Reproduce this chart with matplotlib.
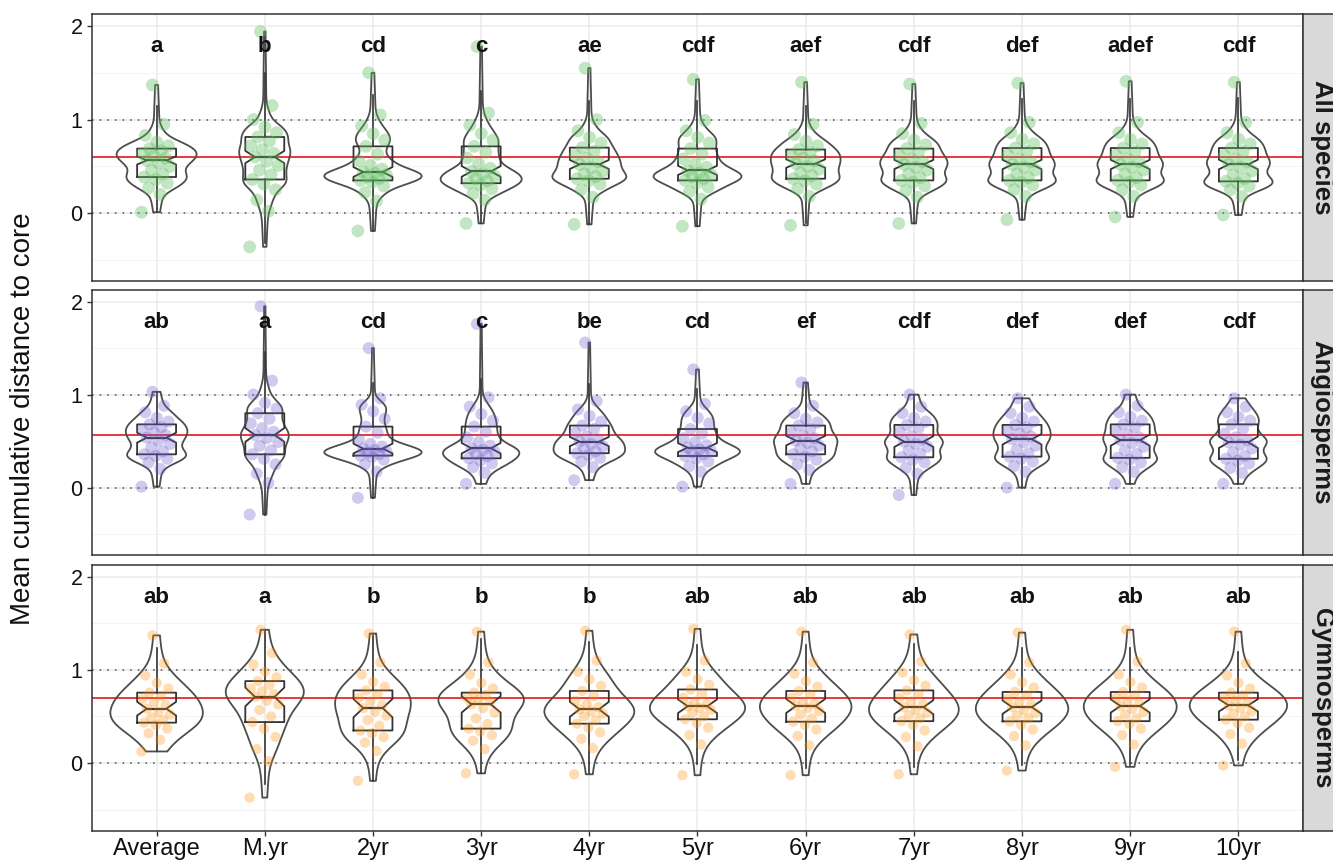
"""
violin + notched box + jitter, three facet rows
distance to core by record length

"""
import numpy as np
import matplotlib.pyplot as plt
from matplotlib import cbook

plt.rcParams['font.family'] = ['Liberation Sans', 'DejaVu Sans']

groups = ['Average', 'M.yr', '2yr', '3yr', '4yr', '5yr',
          '6yr', '7yr', '8yr', '9yr', '10yr']
panels = ['All species', 'Angiosperms', 'Gymnosperms']

all_species = [
    [0.01, 0.20, 0.27, 0.32, 0.36, 0.386, 0.42, 0.46, 0.50, 0.535, 0.564, 0.59, 0.615, 0.64, 0.665, 0.69, 0.72, 0.76, 0.83, 0.95, 1.37],
    [-0.36, 0.02, 0.14, 0.25, 0.31, 0.36, 0.41, 0.46, 0.51, 0.555, 0.60, 0.64, 0.68, 0.72, 0.77, 0.814, 0.86, 0.92, 1.00, 1.15, 1.94],
    [-0.19, 0.13, 0.22, 0.29, 0.33, 0.35, 0.37, 0.39, 0.41, 0.425, 0.44, 0.47, 0.51, 0.56, 0.63, 0.714, 0.78, 0.85, 0.93, 1.05, 1.50],
    [-0.11, 0.14, 0.21, 0.26, 0.30, 0.32, 0.345, 0.37, 0.395, 0.42, 0.446, 0.48, 0.53, 0.59, 0.65, 0.714, 0.78, 0.85, 0.94, 1.07, 1.78],
    [-0.12, 0.17, 0.25, 0.31, 0.345, 0.368, 0.39, 0.42, 0.45, 0.485, 0.52, 0.55, 0.585, 0.62, 0.66, 0.70, 0.75, 0.81, 0.88, 1.00, 1.55],
    [-0.14, 0.15, 0.23, 0.28, 0.32, 0.35, 0.37, 0.39, 0.41, 0.43, 0.457, 0.49, 0.53, 0.58, 0.63, 0.69, 0.75, 0.81, 0.88, 0.99, 1.43],
    [-0.13, 0.18, 0.26, 0.31, 0.345, 0.368, 0.40, 0.43, 0.47, 0.50, 0.53, 0.56, 0.59, 0.62, 0.65, 0.68, 0.72, 0.77, 0.84, 0.95, 1.40],
    [-0.11, 0.17, 0.24, 0.29, 0.33, 0.35, 0.38, 0.42, 0.46, 0.49, 0.52, 0.55, 0.58, 0.61, 0.65, 0.69, 0.73, 0.78, 0.85, 0.96, 1.38],
    [-0.07, 0.18, 0.25, 0.30, 0.33, 0.35, 0.38, 0.42, 0.46, 0.49, 0.52, 0.55, 0.58, 0.62, 0.66, 0.696, 0.74, 0.79, 0.86, 0.97, 1.39],
    [-0.04, 0.18, 0.25, 0.30, 0.33, 0.35, 0.38, 0.42, 0.46, 0.49, 0.52, 0.55, 0.58, 0.62, 0.66, 0.696, 0.74, 0.79, 0.86, 0.97, 1.41],
    [-0.02, 0.18, 0.25, 0.29, 0.32, 0.34, 0.37, 0.41, 0.45, 0.49, 0.52, 0.55, 0.58, 0.62, 0.66, 0.696, 0.74, 0.79, 0.86, 0.97, 1.40],
]
angiosperms = [
    [0.01, 0.20, 0.27, 0.31, 0.34, 0.358, 0.39, 0.43, 0.47, 0.505, 0.537, 0.565, 0.595, 0.62, 0.65, 0.68, 0.71, 0.75, 0.81, 0.88, 1.03],
    [-0.29, 0.05, 0.15, 0.25, 0.31, 0.358, 0.40, 0.45, 0.49, 0.53, 0.566, 0.60, 0.64, 0.69, 0.74, 0.80, 0.85, 0.91, 1.00, 1.15, 1.95],
    [-0.11, 0.17, 0.25, 0.30, 0.33, 0.344, 0.36, 0.375, 0.39, 0.405, 0.42, 0.44, 0.47, 0.52, 0.59, 0.656, 0.74, 0.82, 0.89, 0.96, 1.50],
    [0.04, 0.16, 0.22, 0.26, 0.29, 0.315, 0.34, 0.36, 0.385, 0.405, 0.423, 0.45, 0.49, 0.54, 0.60, 0.656, 0.72, 0.79, 0.87, 0.97, 1.76],
    [0.08, 0.22, 0.28, 0.32, 0.35, 0.37, 0.39, 0.42, 0.445, 0.47, 0.495, 0.52, 0.55, 0.59, 0.63, 0.667, 0.71, 0.77, 0.84, 0.93, 1.56],
    [0.01, 0.17, 0.23, 0.28, 0.315, 0.34, 0.36, 0.38, 0.395, 0.41, 0.43, 0.455, 0.49, 0.53, 0.58, 0.63, 0.69, 0.75, 0.82, 0.90, 1.27],
    [0.04, 0.19, 0.25, 0.30, 0.33, 0.358, 0.39, 0.42, 0.45, 0.48, 0.505, 0.53, 0.56, 0.59, 0.63, 0.667, 0.70, 0.74, 0.80, 0.88, 1.13],
    [-0.08, 0.15, 0.21, 0.27, 0.30, 0.326, 0.36, 0.40, 0.44, 0.47, 0.495, 0.52, 0.555, 0.60, 0.64, 0.674, 0.71, 0.75, 0.80, 0.87, 1.00],
    [0.00, 0.17, 0.23, 0.28, 0.31, 0.333, 0.37, 0.41, 0.45, 0.49, 0.52, 0.55, 0.58, 0.61, 0.645, 0.674, 0.71, 0.75, 0.80, 0.87, 0.96],
    [0.04, 0.17, 0.22, 0.27, 0.30, 0.32, 0.36, 0.40, 0.44, 0.48, 0.51, 0.54, 0.57, 0.61, 0.65, 0.68, 0.72, 0.76, 0.81, 0.88, 1.00],
    [0.04, 0.16, 0.21, 0.26, 0.29, 0.31, 0.34, 0.38, 0.42, 0.46, 0.487, 0.51, 0.54, 0.58, 0.63, 0.68, 0.72, 0.76, 0.81, 0.87, 0.96],
]
gymnosperms = [
    [0.125, 0.25, 0.32, 0.37, 0.41, 0.434, 0.46, 0.49, 0.52, 0.55, 0.584, 0.62, 0.65, 0.69, 0.72, 0.756, 0.80, 0.86, 0.94, 1.07, 1.37],
    [-0.37, 0.02, 0.15, 0.28, 0.37, 0.44, 0.50, 0.57, 0.63, 0.67, 0.71, 0.74, 0.77, 0.80, 0.84, 0.88, 0.92, 0.98, 1.06, 1.18, 1.43],
    [-0.19, 0.13, 0.22, 0.28, 0.32, 0.35, 0.40, 0.46, 0.51, 0.55, 0.59, 0.62, 0.66, 0.70, 0.74, 0.78, 0.82, 0.87, 0.95, 1.08, 1.39],
    [-0.11, 0.15, 0.24, 0.30, 0.34, 0.37, 0.42, 0.48, 0.54, 0.59, 0.63, 0.66, 0.68, 0.70, 0.73, 0.756, 0.80, 0.86, 0.95, 1.08, 1.41],
    [-0.12, 0.16, 0.26, 0.33, 0.38, 0.423, 0.46, 0.50, 0.53, 0.555, 0.577, 0.60, 0.63, 0.67, 0.72, 0.774, 0.83, 0.90, 0.98, 1.10, 1.42],
    [-0.13, 0.20, 0.30, 0.38, 0.43, 0.47, 0.50, 0.54, 0.57, 0.59, 0.61, 0.63, 0.66, 0.70, 0.74, 0.79, 0.84, 0.90, 0.98, 1.10, 1.44],
    [-0.13, 0.19, 0.29, 0.36, 0.41, 0.444, 0.48, 0.52, 0.56, 0.59, 0.613, 0.635, 0.66, 0.70, 0.74, 0.774, 0.82, 0.88, 0.96, 1.08, 1.41],
    [-0.12, 0.18, 0.28, 0.35, 0.41, 0.45, 0.48, 0.51, 0.54, 0.57, 0.60, 0.63, 0.66, 0.70, 0.74, 0.78, 0.83, 0.89, 0.97, 1.09, 1.38],
    [-0.08, 0.19, 0.29, 0.36, 0.41, 0.448, 0.48, 0.51, 0.54, 0.57, 0.60, 0.63, 0.66, 0.69, 0.73, 0.763, 0.81, 0.87, 0.95, 1.08, 1.40],
    [-0.04, 0.20, 0.30, 0.37, 0.42, 0.45, 0.48, 0.52, 0.55, 0.58, 0.613, 0.64, 0.67, 0.70, 0.73, 0.763, 0.81, 0.87, 0.95, 1.09, 1.43],
    [-0.025, 0.21, 0.31, 0.38, 0.43, 0.466, 0.50, 0.53, 0.56, 0.59, 0.62, 0.645, 0.67, 0.70, 0.73, 0.756, 0.80, 0.86, 0.94, 1.07, 1.41],
]

letters_all = ['a', 'b', 'cd', 'c', 'ae', 'cdf', 'aef', 'cdf', 'def', 'adef', 'cdf']
letters_angio = ['ab', 'a', 'cd', 'c', 'be', 'cd', 'ef', 'cdf', 'def', 'def', 'cdf']
letters_gym = ['ab', 'a', 'b', 'b', 'b', 'ab', 'ab', 'ab', 'ab', 'ab', 'ab']

ref_line = [0.597, 0.567, 0.699]   # red reference line per panel
n_obs = [120, 90, 48]              # sample size used for the notches

point_colors = ['#5DBE5D', '#6A5ACD', '#FF8C00']
point_size = [85, 75, 55]
point_alpha = [0.38, 0.32, 0.3]
bandwidth = [0.055, 0.055, 0.12]


def kde_method(x, coords, h0=0.055, k=0.8):
    # gaussian kernel, wider where the percentiles are sparse (tails)
    x = np.sort(np.asarray(x, float))
    gaps = np.diff(x)
    local = np.r_[gaps[0], (gaps[:-1] + gaps[1:]) / 2, gaps[-1]]
    h = np.maximum(h0, k * local)
    z = (coords[:, None] - x[None, :]) / h[None, :]
    return (np.exp(-0.5 * z**2) / (h * np.sqrt(2 * np.pi))).mean(axis=1)


def box_stats(vals, n):
    v = np.asarray(vals, float)
    q1, med, q3 = np.percentile(v, [25, 50, 75])
    iqr = q3 - q1
    notch = 1.58 * iqr / np.sqrt(n)
    return dict(med=med, q1=q1, q3=q3,
                whislo=max(v.min(), q1 - 1.5 * iqr),
                whishi=min(v.max(), q3 + 1.5 * iqr),
                cilo=med - notch, cihi=med + notch, fliers=[])


def main():
    data = [all_species, angiosperms, gymnosperms]
    letters = [letters_all, letters_angio, letters_gym]
    pos = np.arange(1, len(groups) + 1)

    fig = plt.figure(figsize=(13.33, 8.61), dpi=100)
    W, H = 1333., 861.
    left, right = 91.7 / W, 1303.3 / W
    rows = [(14.3, 281.0), (290.0, 555.0), (565.0, 830.7)]

    for i, (top, bot) in enumerate(rows):
        ax = fig.add_axes([left, 1 - bot / H, right - left, (bot - top) / H])

        ax.axhline(ref_line[i], color='#E8282B', lw=1.3, zorder=1)
        for y in (0, 1):
            ax.axhline(y, color='#4D4D4D', lw=1.1, ls=(0, (1, 4)), zorder=1)

        # area scaling within the panel
        kde = lambda x, c, h=bandwidth[i]: kde_method(x, c, h0=h)
        vp = cbook.violin_stats(data[i], kde, points=300)
        dmax = max(s['vals'].max() for s in vp)
        widths = [0.9 * s['vals'].max() / dmax for s in vp]
        parts = ax.violin(vp, positions=pos, widths=widths,
                          showmeans=False, showextrema=False, showmedians=False)
        for b in parts['bodies']:
            b.set_facecolor('none')
            b.set_edgecolor('#4D4D4D')
            b.set_linewidth(1.3)
            b.set_alpha(1)
            b.set_zorder(2)

        for j, vals in enumerate(data[i]):
            m = len(vals)
            offs = 0.14 * (((np.arange(m) * 0.6180339887) % 1) * 2 - 1)
            ax.scatter(pos[j] + offs, vals, s=point_size[i], color=point_colors[i],
                       alpha=point_alpha[i], edgecolors='none', zorder=3)

        stats = [box_stats(v, n_obs[i]) for v in data[i]]
        ax.bxp(stats, positions=pos, widths=0.36, shownotches=True,
               showcaps=False, showfliers=False, manage_ticks=False,
               boxprops=dict(color='#333333', lw=1.3),
               whiskerprops=dict(color='#333333', lw=1.2),
               medianprops=dict(color='#333333', lw=1.6))

        for j, t in enumerate(letters[i]):
            ax.text(pos[j], 1.78, t, ha='center', va='center',
                    fontsize=16, fontweight='bold', color='#111111', zorder=5)

        ax.set_xlim(0.4, 11.6)
        ax.set_ylim(-0.725, 2.125)
        ax.set_yticks([0, 1, 2])
        ax.set_yticks([-0.5, 0.5, 1.5], minor=True)
        ax.set_xticks(pos)
        ax.grid(which='major', color='#EBEBEB', lw=1.1, zorder=0)
        ax.grid(which='minor', axis='y', color='#F3F3F3', lw=0.7, zorder=0)
        ax.set_axisbelow(True)

        for sp in ax.spines.values():
            sp.set_color('#333333')
            sp.set_linewidth(1.1)
        ax.tick_params(axis='y', which='minor', length=0)
        ax.tick_params(axis='y', length=3.5, width=1, color='#333333',
                       labelsize=15.5, labelcolor='#111111', pad=3)
        if i < 2:
            ax.tick_params(axis='x', length=0, labelbottom=False)
        else:
            ax.set_xticklabels(groups)
            ax.tick_params(axis='x', length=3.5, width=1, color='#333333',
                           labelsize=17, labelcolor='#111111', pad=2)

        # facet strip on the right
        sx = fig.add_axes([right, 1 - bot / H, (1340 - 1303.3) / W, (bot - top) / H])
        sx.set_facecolor('#D9D9D9')
        sx.set_xticks([])
        sx.set_yticks([])
        for sp in sx.spines.values():
            sp.set_color('#333333')
            sp.set_linewidth(1.1)
        sx.text(0.5, 0.5, panels[i], rotation=-90, ha='center', va='center',
                fontsize=18.5, fontweight='bold', color='#1A1A1A',
                transform=sx.transAxes)

    fig.text(23.5 / W, 1 - 418.5 / H, 'Mean cumulative distance to core',
             rotation=90, ha='center', va='center', fontsize=20, color='#111111')

    fig.savefig('out.png', dpi=100)


if __name__ == '__main__':
    main()
